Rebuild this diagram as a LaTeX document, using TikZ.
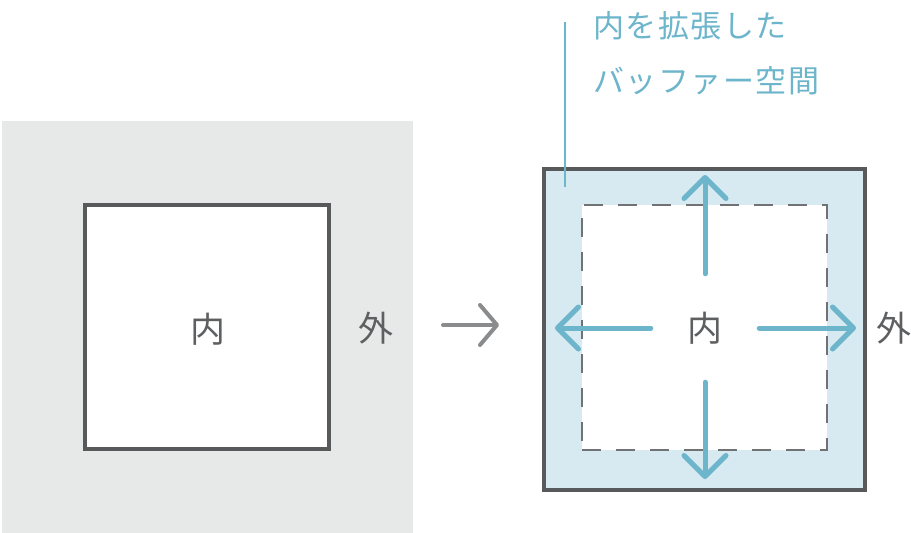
\documentclass[tikz,border=0pt]{standalone}
\usepackage{fontspec}
\newfontfamily\jpfont{Noto Sans CJK JP}
\usetikzlibrary{arrows.meta, positioning}

\definecolor{edgegray}{HTML}{58595B}
\definecolor{textgray}{HTML}{5E5F61}
\definecolor{fieldgray}{HTML}{E7E8E8}
\definecolor{bufferblue}{HTML}{D7E9F1}
\definecolor{arrowblue}{HTML}{6DB5CB}
\definecolor{stepgray}{HTML}{8A8B8C}

\begin{document}
\begin{tikzpicture}[
    x=1pt, y=-1pt,
    fieldbox/.style={rectangle, fill=fieldgray, inner sep=0pt},
    regionbox/.style={rectangle, draw=edgegray, line width=4pt, fill=white, inner sep=0pt, minimum size=244pt},
    bufferbox/.style={rectangle, draw=edgegray, line width=4pt, fill=bufferblue, inner sep=0pt, minimum size=321pt},
    corebox/.style={rectangle, draw=edgegray!85, line width=2pt, dash pattern=on 19pt off 15pt, fill=white, inner sep=0pt, minimum size=245pt},
    sign/.style={text=textgray, font=\jpfont\fontsize{35}{40}\selectfont, inner sep=0pt},
    notetext/.style={text=arrowblue, font=\jpfont\fontsize{31}{36}\selectfont\addfontfeatures{LetterSpace=5}, inner sep=0pt, anchor=west},
    expand/.style={arrowblue, line width=5pt, line cap=round, -{Straight Barb[length=21pt, width=42pt, round]}},
    steparrow/.style={stepgray, line width=4pt, line cap=round, -{Straight Barb[length=17pt, width=40pt, round]}}
]
    \useasboundingbox (0,0) rectangle (911,533);

    % before
    \node (fieldL) [fieldbox, minimum width=411pt, minimum height=412pt] at (207.5,327) {};
    \node (regionL) [regionbox] at (207,327) {};
    \node (inL) [sign] at (208,329) {内};
    \node (outL) [sign] at (376,328) {外};

    % step arrow
    \coordinate (stepA) at (443,325);
    \coordinate (stepB) at (499,325);
    \draw [steparrow] (stepA) -- (stepB);

    % after
    \node (bufferR) [bufferbox] at (704.5,329.5) {};
    \node (coreR) [corebox] at (704.5,327.5) {};
    \node (inR) [sign, minimum size=108pt] at (705,328) {内};
    \node (outR) [sign] at (894,328) {外};

    \coordinate (upEnd) at (705,175);
    \coordinate (downEnd) at (705,479);
    \coordinate (leftEnd) at (555,328);
    \coordinate (rightEnd) at (856,328);
    \draw [expand] (inR.north) -- (upEnd);
    \draw [expand] (inR.south) -- (downEnd);
    \draw [expand] (inR.west) -- (leftEnd);
    \draw [expand] (inR.east) -- (rightEnd);

    % callout
    \coordinate (callTop) at (565,22);
    \coordinate (callEnd) at (565,187);
    \draw [arrowblue, line width=2pt] (callTop) -- (callEnd);
    \node (noteA) [notetext] at (593,26) {内を拡張した};
    \node (noteB) [notetext] at (593,81) {バッファー空間};
\end{tikzpicture}
\end{document}
